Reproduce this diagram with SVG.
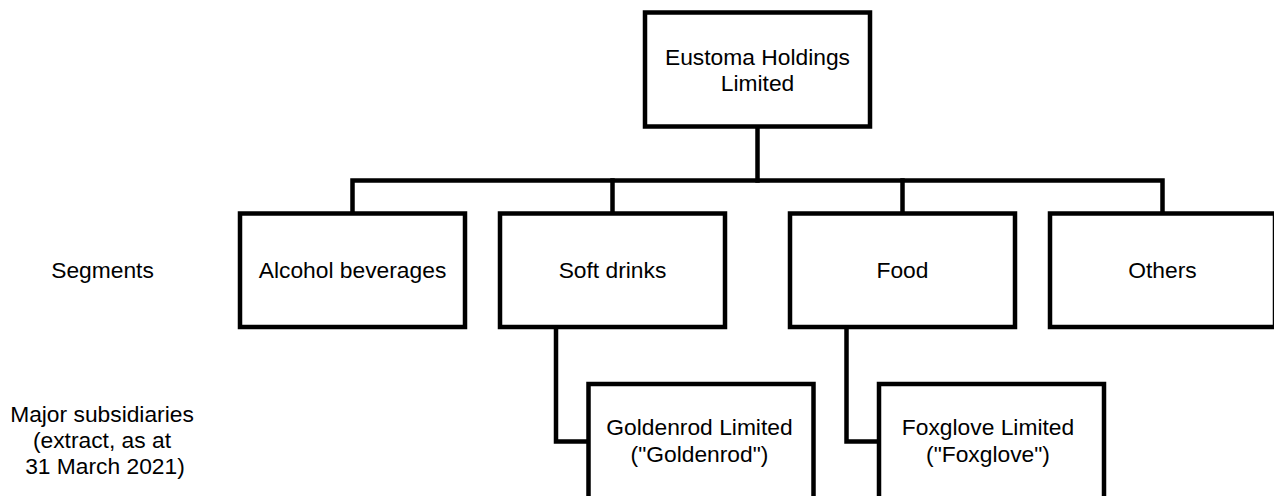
<svg xmlns="http://www.w3.org/2000/svg" width="1274" height="496" viewBox="0 0 1274 496">
<style>
.box{fill:#fff;stroke:#000;stroke-width:4.5}
.conn{fill:none;stroke:#000;stroke-width:4.5;stroke-linejoin:miter;stroke-linecap:square}
text{font-family:"Liberation Sans",Arial,sans-serif;font-size:22.8px;fill:#000;text-anchor:middle}
</style>
<rect width="1274" height="496" fill="#fff"/>
<g id="connectors">
<path class="conn" d="M757.5 126.5V180.5"/>
<path class="conn" d="M352.5 213.5V180.5H1162.5V213.5"/>
<path class="conn" d="M612.5 180.5V213.5"/>
<path class="conn" d="M902.5 180.5V213.5"/>
<path class="conn" d="M556 327V441.5H588.5"/>
<path class="conn" d="M846.5 327V441.5H879"/>
</g>
<g id="n-parent">
<rect class="box" x="645" y="12.5" width="225" height="114"/>
<text x="757.5" y="64.5">Eustoma Holdings</text>
<text x="757.5" y="90.5">Limited</text>
</g>
<g id="lbl-segments"><text x="102.5" y="278">Segments</text></g>
<g id="lbl-subs">
<text x="102" y="422">Major subsidiaries</text>
<text x="102" y="448">(extract, as at</text>
<text x="105" y="474">31 March 2021)</text>
</g>
<g id="n-alcohol">
<rect class="box" x="240" y="213.5" width="225" height="113.5"/>
<text x="352.5" y="278">Alcohol beverages</text>
</g>
<g id="n-soft">
<rect class="box" x="500" y="213.5" width="225" height="113.5"/>
<text x="612.5" y="278">Soft drinks</text>
</g>
<g id="n-food">
<rect class="box" x="790" y="213.5" width="225" height="113.5"/>
<text x="902.5" y="278">Food</text>
</g>
<g id="n-others">
<rect class="box" x="1050" y="213.5" width="225" height="113.5"/>
<text x="1162.5" y="278">Others</text>
</g>
<g id="n-goldenrod">
<rect class="box" x="588.5" y="384" width="225" height="125"/>
<text x="699.5" y="435">Goldenrod Limited</text>
<text x="699.5" y="461.5">("Goldenrod")</text>
</g>
<g id="n-foxglove">
<rect class="box" x="879" y="384" width="225" height="125"/>
<text x="988" y="435">Foxglove Limited</text>
<text x="988" y="461.5">("Foxglove")</text>
</g>
</svg>
